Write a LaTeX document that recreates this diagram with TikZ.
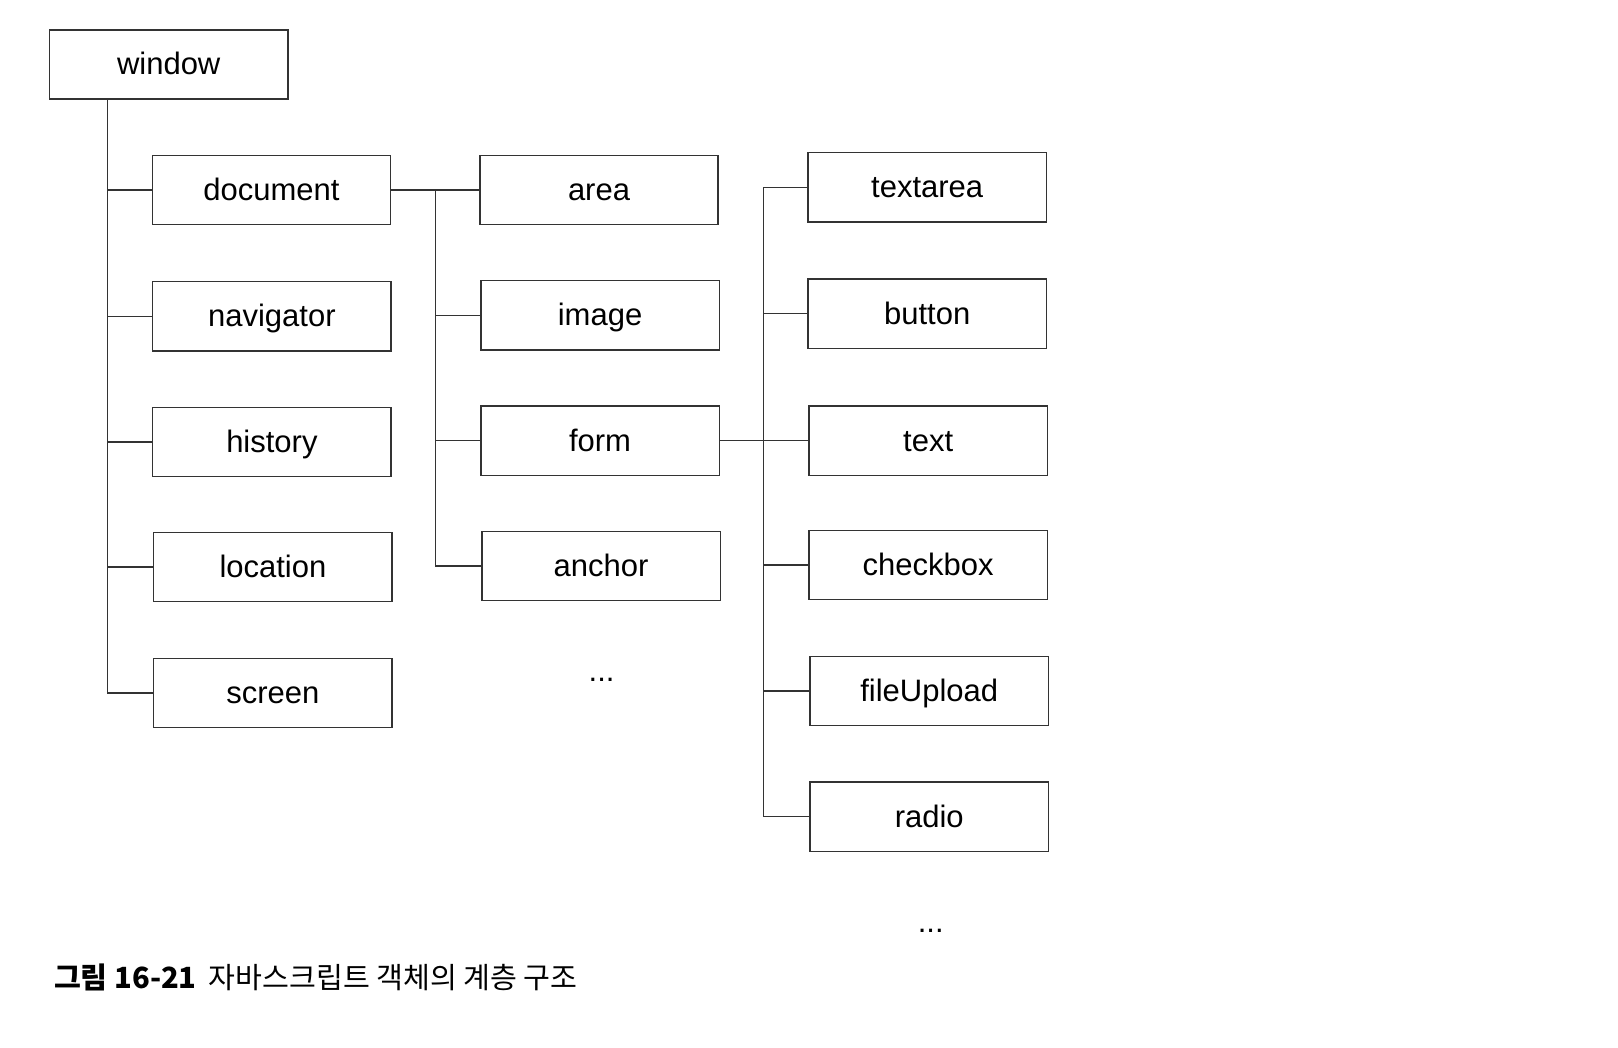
\documentclass[tikz,border=0pt]{standalone}
\usepackage{fontspec}
\setmainfont{Liberation Sans}
\newfontfamily\krfont{Noto Sans CJK KR}
\begin{document}
\begin{tikzpicture}[x=0.5161pt,y=-0.5161pt,
  objbox/.style={draw=black!80,line width=0.7pt,minimum width=119.2pt,minimum height=34.6pt,inner sep=0pt,
    text height=12.2pt,text depth=1.8pt,font=\fontsize{15.5}{18}\selectfont},
  dotsnode/.style={inner sep=0pt,font=\fontsize{15.5}{18}\selectfont},
  link/.style={draw=black!80,line width=0.7pt}]
\useasboundingbox (0,0) rectangle (1568,1015.6);
\fill[white] (0,0) rectangle (1568,1015.6);
% boxes
\node[objbox] (window) at (163.5,62.5) {window};
\node[objbox] (document) at (263,184) {document};
\node[objbox] (navigator) at (263.5,306.5) {navigator};
\node[objbox] (history) at (263.5,428.5) {history};
\node[objbox] (location) at (264.5,549.5) {location};
\node[objbox] (screen) at (264.5,671.5) {screen};
\node[objbox] (area) at (580.5,184) {area};
\node[objbox] (image) at (581.5,305.5) {image};
\node[objbox] (form) at (581.5,427) {form};
\node[objbox] (anchor) at (582.5,548.5) {anchor};
\node[dotsnode] (dots2) at (583,659) {...};
\node[objbox] (textarea) at (898.5,181.5) {textarea};
\node[objbox] (button) at (898.5,304) {button};
\node[objbox] (text) at (899.5,427) {text};
\node[objbox] (checkbox) at (899.5,547.5) {checkbox};
\node[objbox] (fileUpload) at (900.5,669.5) {fileUpload};
\node[objbox] (radio) at (900.5,791.5) {radio};
\node[dotsnode] (dots3) at (902,902) {...};
% caption
\node[anchor=base west,inner sep=0pt,font=\krfont\fontsize{14.6}{17}\selectfont] (cap) at (52,958)
  {\textbf{그림 16-21}\hspace{6pt}자바스크립트 객체의 계층 구조};
% connectors window
\coordinate (w1) at (104,96);
\coordinate (w2) at (104,671.5);
\draw[link] (w1) -- (w2);
\foreach \n in {document,navigator,history,location,screen}
  \draw[link] (\n.west) -- (w1 |- \n.west);
% document children
\coordinate (d1) at (422,184);
\coordinate (d2) at (422,548.5);
\draw[link] (document.east) -- (area.west);
\draw[link] (d1) -- (d2);
\foreach \n in {image,form,anchor}
  \draw[link] (\n.west) -- (d1 |- \n.west);
% form children
\coordinate (f1) at (740,181.5);
\coordinate (f2) at (740,791.5);
\draw[link] (form.east) -- (text.west);
\draw[link] (f1) -- (f2);
\foreach \n in {textarea,button,checkbox,fileUpload,radio}
  \draw[link] (\n.west) -- (f1 |- \n.west);
\end{tikzpicture}
\end{document}
